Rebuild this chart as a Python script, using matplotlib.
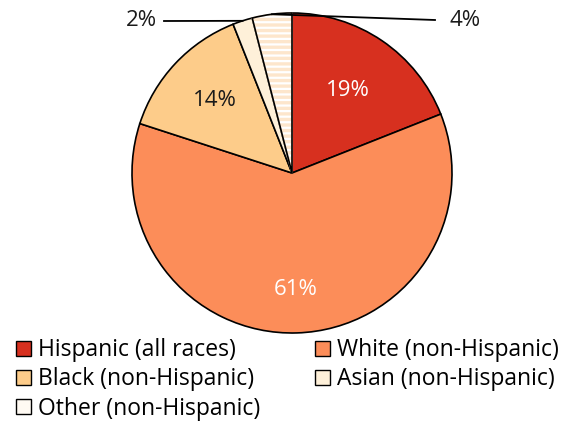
import numpy as np
import matplotlib
matplotlib.use("Agg")
import matplotlib.pyplot as plt
from matplotlib.patches import Wedge, Patch

plt.rcParams['font.family'] = ['Open Sans', 'DejaVu Sans']
plt.rcParams['hatch.linewidth'] = 2.4

groups = ['Hispanic (all races)', 'White (non-Hispanic)', 'Black (non-Hispanic)',
          'Asian (non-Hispanic)', 'Other (non-Hispanic)']
shares = [19, 61, 14, 2, 4]
colors = ['#d7301f', '#fc8d59', '#fdcc8a', '#fef0d9', '#ffffff']
legend_colors = ['#d7301f', '#fc8d59', '#fdcc8a', '#fef0d9', '#fffaf3']
text_colors = ['white', 'white', '#1a1a1a', '#1a1a1a', '#1a1a1a']

W, H = 573, 422
fig = plt.figure(figsize=(W / 100, H / 100), dpi=100)
ax = fig.add_axes([0, 0, 1, 1])

cx, cy, r = 292, H - 173, 160
wedges, _ = ax.pie(shares, colors=colors, startangle=90, counterclock=False,
                   center=(cx, cy), radius=r, frame=True,
                   wedgeprops=dict(edgecolor='black', linewidth=1.2))
ax.set_xlim(0, W)
ax.set_ylim(0, H)
ax.set_aspect('equal')
ax.axis('off')

# striped fill for "Other", outline redrawn on top in black
other = wedges[4]
other.set_edgecolor('#fde6cc')
other.set_hatch('---')
ax.add_patch(Wedge((cx, cy), r, other.theta1, other.theta2, fill=False,
                   edgecolor='black', linewidth=1.2, zorder=other.get_zorder() + 0.1))

# values inside the big slices
inside = {0: 0.62, 1: 0.73, 2: 0.66}
for i, frac in inside.items():
    w = wedges[i]
    ang = np.deg2rad((w.theta1 + w.theta2) / 2)
    ax.text(cx + frac * r * np.cos(ang), cy + frac * r * np.sin(ang),
            f'{shares[i]}%', color=text_colors[i], fontsize=16,
            ha='center', va='center')

# small slices get leader lines
outside = {3: (164, H - 21, 'right', 157), 4: (435, H - 20, 'left', 449)}
for i, (lx, ly, ha, tx) in outside.items():
    w = wedges[i]
    ang = np.deg2rad((w.theta1 + w.theta2) / 2)
    px, py = cx + r * np.cos(ang), cy + r * np.sin(ang)
    ax.plot([px, lx], [py, ly], color='black', linewidth=1.3, zorder=5)
    ax.text(tx, ly, f'{shares[i]}%', color=text_colors[i], fontsize=16,
            ha=ha, va='center')

# legend reads row by row: reorder for matplotlib's column filling
order = [0, 2, 4, 1, 3]
handles = [Patch(facecolor=legend_colors[i], edgecolor='black', linewidth=1.0)
           for i in order]
ax.legend(handles, [groups[i] for i in order], ncol=2, frameon=False, fontsize=16.5,
          loc='upper left', bbox_to_anchor=(0.028, 0.198),
          handlelength=0.66, handleheight=0.66, handletextpad=0.3,
          columnspacing=2.4, labelspacing=0.22, borderpad=0, borderaxespad=0)

fig.savefig('out.png', dpi=100)
